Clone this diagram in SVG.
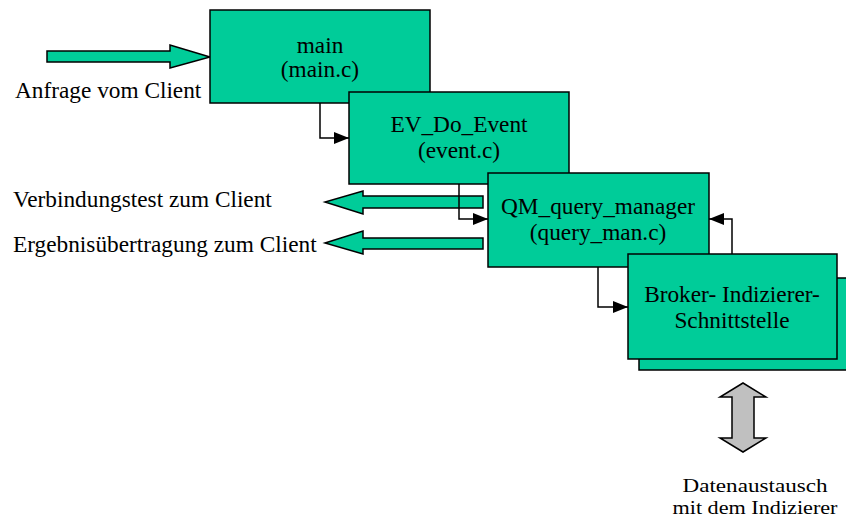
<svg xmlns="http://www.w3.org/2000/svg" width="846" height="525" viewBox="0 0 846 525">
  <defs>
    <style>
      .box { fill: #00CC99; stroke: #000; stroke-width: 1.5; }
      .fat { fill: #00CC99; stroke: #000; stroke-width: 1.5; stroke-linejoin: miter; }
      .gray { fill: #C0C0C0; stroke: #000; stroke-width: 1.5; }
      .link { fill: none; stroke: #000; stroke-width: 1.5; }
      text { font-family: "Liberation Serif", "Times New Roman", serif; font-size: 23.3px; fill: #000; }
      .c { text-anchor: middle; }
      .note { font-size: 19.5px; }
    </style>
    <marker id="head" viewBox="0 0 15 12" refX="15" refY="6" markerWidth="15" markerHeight="12" markerUnits="userSpaceOnUse" orient="auto">
      <path d="M0,0 L15,6 L0,12 Z" fill="#000"/>
    </marker>
  </defs>

  <!-- incoming request arrow -->
  <g id="request">
    <path class="fat" d="M47,51 L170,51 L170,45 L210,57 L170,68 L170,62 L47,62 Z"/>
    <text x="15" y="98">Anfrage vom Client</text>
  </g>

  <!-- outgoing arrows to the client -->
  <g id="to-client">
    <path class="fat" d="M483,196 L363,196 L363,191 L325,202 L363,214 L363,208 L483,208 Z"/>
    <path class="fat" d="M483,238 L363,238 L363,231 L325,243 L363,254 L363,249 L483,249 Z"/>
    <text x="13" y="207">Verbindungstest zum Client</text>
    <text x="13" y="252">Ergebnisübertragung zum Client</text>
  </g>

  <g id="main">
    <rect class="box" x="210" y="10" width="220" height="93"/>
    <text class="c" x="320" y="53">main</text>
    <text class="c" x="320" y="77">(main.c)</text>
  </g>

  <g id="ev-do-event">
    <rect class="box" x="349" y="92" width="220" height="92"/>
    <text class="c" x="459" y="132">EV_Do_Event</text>
    <text class="c" x="459" y="158">(event.c)</text>
  </g>

  <g id="qm-query-manager">
    <rect class="box" x="488" y="173" width="221" height="94"/>
    <text class="c" x="598" y="214">QM_query_manager</text>
    <text class="c" x="598" y="240">(query_man.c)</text>
  </g>

  <g id="broker-interface">
    <rect class="box" x="639" y="278" width="212" height="92"/>
    <rect class="box" x="628" y="254" width="209" height="105"/>
    <text class="c" x="732" y="302">Broker- Indizierer-</text>
    <text class="c" x="732" y="328">Schnittstelle</text>
  </g>

  <!-- control flow between the modules -->
  <g id="connectors">
    <path class="link" d="M320,103 L320,138 L349,138" marker-end="url(#head)"/>
    <path class="link" d="M459,184 L459,219 L488,219" marker-end="url(#head)"/>
    <path class="link" d="M598,267 L598,307 L628,307" marker-end="url(#head)"/>
    <path class="link" d="M732,254 L732,219 L709,219" marker-end="url(#head)"/>
  </g>

  <!-- data exchange with the indexer -->
  <g id="data-exchange">
    <path class="gray" d="M743,383 L766,397 L754,397 L754,438 L766,438 L743,452 L720,438 L732,438 L732,397 L720,397 Z"/>
    <text class="c note" x="755" y="491.5" textLength="145" lengthAdjust="spacingAndGlyphs">Datenaustausch</text>
    <text class="c note" x="755" y="514" textLength="165" lengthAdjust="spacingAndGlyphs">mit dem Indizierer</text>
  </g>
</svg>
